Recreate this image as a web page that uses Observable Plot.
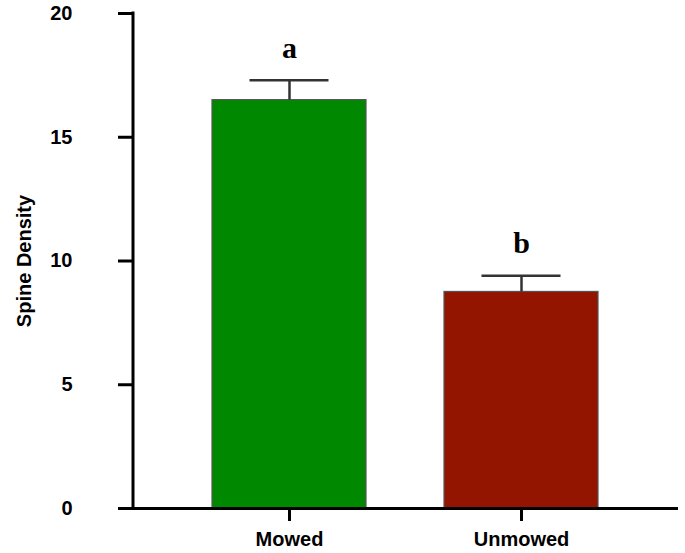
<!DOCTYPE html>
<html>
<head>
<meta charset="utf-8">
<script src="https://cdn.jsdelivr.net/npm/d3@7"></script>
<script src="https://cdn.jsdelivr.net/npm/@observablehq/plot@0.6"></script>
<style>
  html, body { margin: 0; padding: 0; background: #fff; }
</style>
</head>
<body>
<div id="chart"></div>
<script>
const categories = ["Mowed", "Unmowed"];
const means = [16.5, 8.75];
const errors = [0.8, 0.65];
const letters = ["a", "b"];
const colors = ["#008800", "#931500"];
const yTicks = [0, 5, 10, 15, 20];
const yLabel = "Spine Density";

const data = categories.map((c, i) => ({
  category: c, mean: means[i], top: means[i] + errors[i], letter: letters[i], color: colors[i]
}));

// y-axis spine drawn through the library's scale
const ySpine = (index, scales, values, dimensions) => {
  const y = scales.y;
  return d3.create("svg:line")
    .attr("x1", dimensions.marginLeft).attr("x2", dimensions.marginLeft)
    .attr("y1", y(yTicks[yTicks.length - 1]) - 1.5).attr("y2", y(0) + 1.5)
    .attr("stroke", "#000").attr("stroke-width", 3)
    .node();
};

const chart = Plot.plot({
  width: 685,
  height: 553,
  marginLeft: 133,
  marginRight: 7,
  marginTop: 13,
  marginBottom: 45,
  style: { fontFamily: "'Liberation Sans', Arial, sans-serif", fontWeight: "bold", fontSize: "20px", color: "#000", background: "#fff" },
  x: { domain: categories, paddingInner: 0.336, paddingOuter: 0.338, label: null },
  y: { domain: [0, 20], label: null },
  marks: [
    Plot.barY(data, { x: "category", y: "mean", fill: "color", stroke: "#555", strokeWidth: 1.2 }),
    Plot.ruleX(data, { x: "category", y1: "mean", y2: "top", stroke: "#333", strokeWidth: 2.5 }),
    Plot.tickY(data, { x: "category", y: "top", stroke: "#333", strokeWidth: 2.5, insetLeft: 37.5, insetRight: 37.5 }),
    Plot.text(data, { x: "category", y: "top", text: "letter", dy: -32, fontFamily: "'Liberation Serif', 'Times New Roman', serif", fontSize: 30, fontWeight: "bold" }),
    Plot.axisY({ ticks: yTicks, tickSize: 15, tickPadding: 46, strokeWidth: 3, tickFormat: d => String(d),
      label: yLabel, labelAnchor: "center", labelOffset: 117, labelArrow: "none" }),
    Plot.axisX({ tickSize: 13, tickPadding: 10, strokeWidth: 3, label: null }),
    Plot.ruleY([0], { stroke: "#000", strokeWidth: 3, insetLeft: -15, insetRight: 0 }),
    ySpine
  ]
});
document.getElementById("chart").appendChild(chart);
</script>
</body>
</html>
